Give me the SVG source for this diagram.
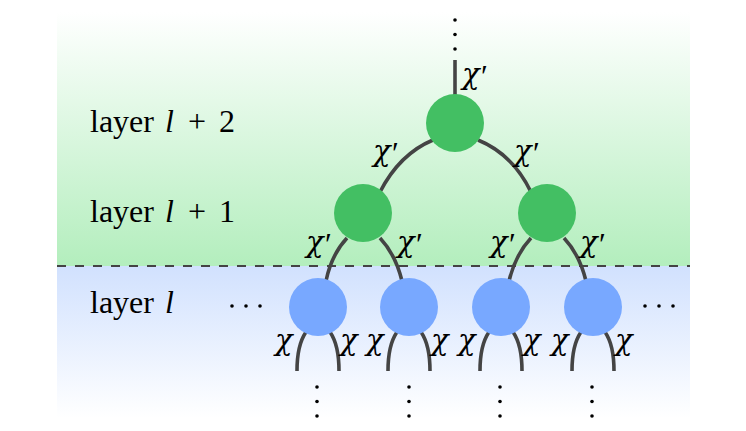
<svg xmlns="http://www.w3.org/2000/svg" width="746" height="431" viewBox="0 0 746 431">
<defs>
<linearGradient id="gGreen" x1="0" y1="0" x2="0" y2="1">
<stop offset="0" stop-color="#ffffff"/>
<stop offset="1" stop-color="#b3eebd"/>
</linearGradient>
<linearGradient id="gBlue" x1="0" y1="0" x2="0" y2="1">
<stop offset="0" stop-color="#d1e1fe"/>
<stop offset="1" stop-color="#ffffff"/>
</linearGradient>
</defs>
<style>
.t{font-family:"Liberation Serif","Times New Roman",serif;font-size:32px;fill:#000}
.i{font-style:italic}
.c{font-family:"DejaVu Serif","Liberation Serif",serif;font-style:italic;font-size:29px;fill:#000}
.p{font-family:"Liberation Serif","DejaVu Serif",serif;font-size:31px;fill:#000}
.e{fill:none;stroke:#444444;stroke-width:3.6}
.g{fill:#43bf63}
.b{fill:#78a8ff}
.d{fill:#000}
</style>
<g id="background">
<rect x="57" y="12" width="633" height="254" fill="url(#gGreen)"/>
<rect x="57" y="266" width="633" height="152" fill="url(#gBlue)"/>
<line x1="57" y1="266" x2="690" y2="266" stroke="#444444" stroke-width="2" stroke-dasharray="9 9"/>
</g>
<g id="layer-labels">
<text class="t" x="90" y="132">layer <tspan class="i" x="165">l</tspan><tspan x="197" text-anchor="middle">+</tspan><tspan x="219">2</tspan></text>
<text class="t" x="90" y="222">layer <tspan class="i" x="165">l</tspan><tspan x="197" text-anchor="middle">+</tspan><tspan x="219">1</tspan></text>
<text class="t" x="90" y="313">layer <tspan class="i" x="165">l</tspan></text>
</g>
<g id="connectors">
<line class="e" x1="455" y1="60" x2="455" y2="95"/>
<path class="e" d="M433,140 Q399.5,154 380,192"/>
<path class="e" d="M478,140 Q512.5,154 531,192"/>
<path class="e" d="M347,238 Q331.5,254.5 326,281"/>
<path class="e" d="M380,238 Q395.5,254.5 402,281"/>
<path class="e" d="M531,238 Q515.5,254.5 509,281"/>
<path class="e" d="M564,238 Q579.5,254.5 586,281"/>
<path class="e" d="M306,332 Q297,345 297,371"/>
<path class="e" d="M330,332 Q339,345 339,371"/>
<path class="e" d="M397,332 Q388,345 388,371"/>
<path class="e" d="M421,332 Q430,345 430,371"/>
<path class="e" d="M489,332 Q480,345 480,371"/>
<path class="e" d="M513,332 Q522,345 522,371"/>
<path class="e" d="M581,332 Q572,345 572,371"/>
<path class="e" d="M605,332 Q614,345 614,371"/>
</g>
<g id="node-top">
<circle class="g" cx="455" cy="123" r="29"/>
</g>
<g id="node-l1-left">
<circle class="g" cx="363" cy="213" r="29"/>
</g>
<g id="node-l1-right">
<circle class="g" cx="547" cy="213" r="29"/>
</g>
<g id="node-l0-1"><circle class="b" cx="318" cy="307" r="29"/></g>
<g id="node-l0-2"><circle class="b" cx="409" cy="307" r="29"/></g>
<g id="node-l0-3"><circle class="b" cx="501" cy="307" r="29"/></g>
<g id="node-l0-4"><circle class="b" cx="593" cy="307" r="29"/></g>
<g id="edge-labels">
<text class="c" x="462" y="84">χ</text><text class="p" x="481" y="87">′</text>
<text class="c" x="373" y="161">χ</text><text class="p" x="392" y="164">′</text>
<text class="c" x="514" y="161">χ</text><text class="p" x="533" y="164">′</text>
<text class="c" x="306" y="252">χ</text><text class="p" x="325" y="255">′</text>
<text class="c" x="397" y="252">χ</text><text class="p" x="416" y="255">′</text>
<text class="c" x="490" y="252">χ</text><text class="p" x="509" y="255">′</text>
<text class="c" x="580" y="252">χ</text><text class="p" x="599" y="255">′</text>
<text class="c" x="275" y="350">χ</text>
<text class="c" x="340" y="350">χ</text>
<text class="c" x="366" y="350">χ</text>
<text class="c" x="431" y="350">χ</text>
<text class="c" x="458" y="350">χ</text>
<text class="c" x="523" y="350">χ</text>
<text class="c" x="551" y="350">χ</text>
<text class="c" x="615" y="350">χ</text>
</g>
<g id="dots">
<circle class="d" cx="455" cy="20" r="1.8"/>
<circle class="d" cx="455" cy="34.5" r="1.8"/>
<circle class="d" cx="455" cy="49" r="1.8"/>
<circle class="d" cx="232" cy="306" r="1.8"/>
<circle class="d" cx="246" cy="306" r="1.8"/>
<circle class="d" cx="260" cy="306" r="1.8"/>
<circle class="d" cx="645" cy="306" r="1.8"/>
<circle class="d" cx="659" cy="306" r="1.8"/>
<circle class="d" cx="673" cy="306" r="1.8"/>
<circle class="d" cx="317" cy="387" r="1.8"/>
<circle class="d" cx="317" cy="401.5" r="1.8"/>
<circle class="d" cx="317" cy="416" r="1.8"/>
<circle class="d" cx="409" cy="387" r="1.8"/>
<circle class="d" cx="409" cy="401.5" r="1.8"/>
<circle class="d" cx="409" cy="416" r="1.8"/>
<circle class="d" cx="500" cy="387" r="1.8"/>
<circle class="d" cx="500" cy="401.5" r="1.8"/>
<circle class="d" cx="500" cy="416" r="1.8"/>
<circle class="d" cx="592" cy="387" r="1.8"/>
<circle class="d" cx="592" cy="401.5" r="1.8"/>
<circle class="d" cx="592" cy="416" r="1.8"/>
</g>
</svg>
